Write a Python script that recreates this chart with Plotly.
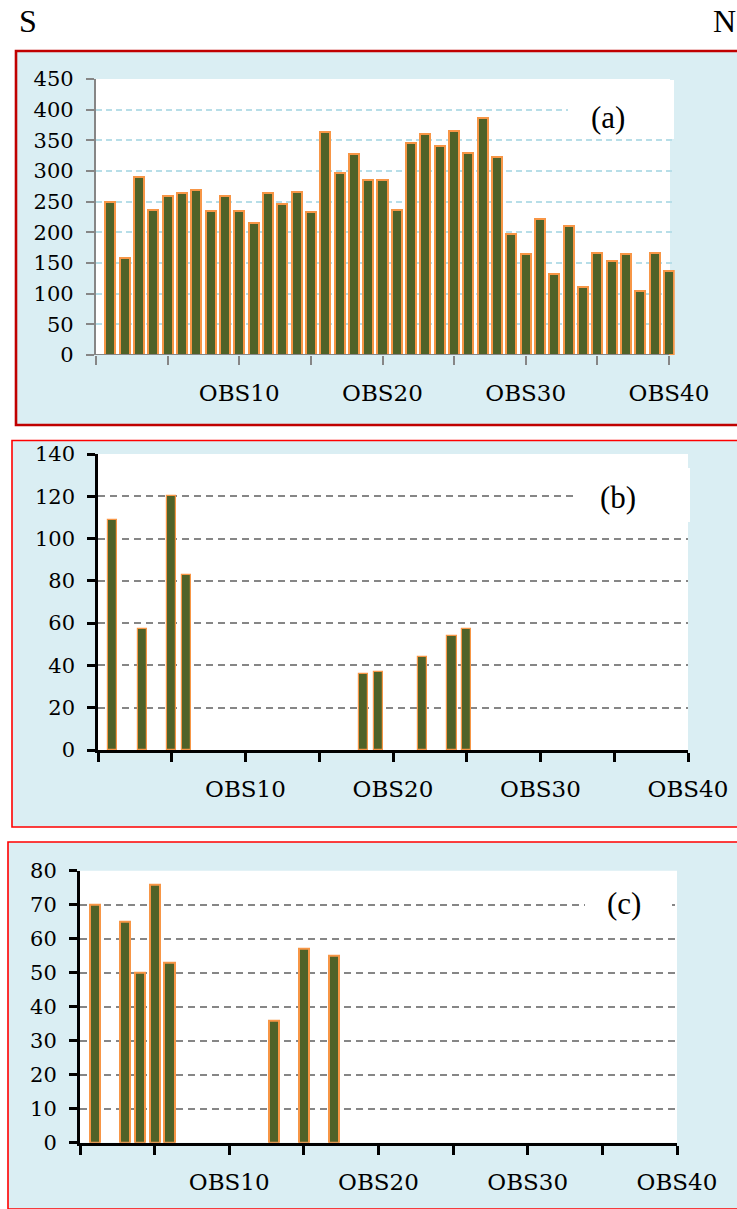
import plotly.graph_objects as go

W, H = 737, 1209

# ---- data -------------------------------------------------------------
obs_pos = list(range(1, 41))
obs_names = ["OBS%d" % i for i in obs_pos]

values_a = [250, 158, 290, 236, 259, 264, 269, 234, 260, 234,
            216, 264, 246, 265, 233, 364, 296, 327, 285, 285,
            236, 346, 361, 341, 365, 330, 387, 323, 198, 165,
            221, 132, 210, 111, 166, 154, 165, 105, 166, 137]

values_b = [109, 0, 57, 0, 120, 83, 0, 0, 0, 0,
            0, 0, 0, 0, 0, 0, 0, 36, 37, 0,
            0, 44, 0, 54, 57, 0, 0, 0, 0, 0,
            0, 0, 0, 0, 0, 0, 0, 0, 0, 0]

values_c = [70, 0, 65, 50, 76, 53, 0, 0, 0, 0,
            0, 0, 36, 0, 57, 0, 55, 0, 0, 0,
            0, 0, 0, 0, 0, 0, 0, 0, 0, 0,
            0, 0, 0, 0, 0, 0, 0, 0, 0, 0]

x_tickvals = [0, 5, 10, 15, 20, 25, 30, 35, 40]
x_ticktext = ["", "", "OBS10", "", "OBS20", "", "OBS30", "", "OBS40"]

panel_tags = ["(a)", "(b)", "(c)"]
edge_labels = ["S", "N"]

# ---- styling ----------------------------------------------------------
BAR_FILL = "#4F6228"
BAR_EDGE = "#F79646"
PANEL_BG = "#DAEEF3"
TICK_FONT = dict(family="DejaVu Serif", size=21, color="#000000")
XTICK_FONT = dict(family="DejaVu Serif", size=23, color="#000000")
TAG_FONT = dict(family="Liberation Serif", size=31, color="#000000")


def px(x):
    return x / W


def py(y):
    return 1 - y / H


fig = go.Figure()

# bars (empty stations are left without a bar)
for vals, xa, ya, bw, lw in [
    (values_a, "x", "y", 0.70, 2.0),
    (values_b, "x2", "y2", 0.64, 1.2),
    (values_c, "x3", "y3", 0.68, 2.0),
]:
    fig.add_trace(go.Bar(
        x=obs_pos, y=[v if v else None for v in vals],
        xaxis=xa, yaxis=ya, width=bw,
        hovertext=obs_names,
        marker=dict(color=BAR_FILL, line=dict(color=BAR_EDGE, width=lw)),
        showlegend=False,
    ))

shapes = []
# panel backgrounds with red frames (open on the right side)
for (x0, y0, y1, col, lw) in [
    (16, 51, 425, "#C00000", 2.6),
    (12, 440.5, 827, "#FF0000", 1.6),
    (8, 842, 1209, "#FF0000", 1.6),
]:
    shapes.append(dict(type="rect", xref="paper", yref="paper",
                       x0=px(x0), x1=1, y0=py(y1), y1=py(y0),
                       fillcolor=PANEL_BG, line=dict(width=0),
                       layer="below"))
    path = "M %f,%f L %f,%f L %f,%f L %f,%f" % (
        px(W), py(y0), px(x0), py(y0), px(x0), py(y1), px(W), py(y1))
    shapes.append(dict(type="path", xref="paper", yref="paper", path=path,
                       line=dict(color=col, width=lw), layer="below"))
# white plotting areas
for (x0, y0, x1, y1) in [
    (96, 79, 670, 355),
    (98, 454, 688, 750),
    (80, 870.7, 677, 1142.7),
]:
    shapes.append(dict(type="rect", xref="paper", yref="paper",
                       x0=px(x0), x1=px(x1), y0=py(y1), y1=py(y0),
                       fillcolor="#FFFFFF", line=dict(width=0),
                       layer="below"))
# white boxes behind the panel tags
for (x0, y0, x1, y1) in [
    (568, 80, 674, 139),
    (577, 468, 690, 522),
    (585, 884, 672, 926),
]:
    shapes.append(dict(type="rect", xref="paper", yref="paper",
                       x0=px(x0), x1=px(x1), y0=py(y1), y1=py(y0),
                       fillcolor="#FFFFFF", line=dict(width=0),
                       layer="above"))
# bottom axis line of panel (a), ending at the last tick
shapes.append(dict(type="line", xref="x", yref="y", x0=0, x1=40, y0=0, y1=0,
                   line=dict(color="#868686", width=2.2), layer="above"))

annotations = []
for txt, (cx, cy) in zip(panel_tags, [(608, 117), (618, 497), (624, 904)]):
    annotations.append(dict(text=txt, x=px(cx), y=py(cy), xref="paper",
                            yref="paper", showarrow=False, font=TAG_FONT,
                            xanchor="center", yanchor="middle"))
annotations.append(dict(text=edge_labels[0], x=px(28), y=py(21), xref="paper",
                        yref="paper", showarrow=False,
                        font=dict(family="Liberation Serif", size=32,
                                  color="#000000"),
                        xanchor="center", yanchor="middle"))
annotations.append(dict(text=edge_labels[1], x=1, y=py(21),
                        xref="paper", yref="paper", showarrow=False,
                        font=dict(family="Liberation Serif", size=32,
                                  color="#000000"),
                        xanchor="right", yanchor="middle", borderpad=0))


def xaxis(domain, rng, anchor, color, lw, show_line=True):
    return dict(domain=domain, range=rng, anchor=anchor,
                tickmode="array", tickvals=x_tickvals, ticktext=x_ticktext,
                ticks="outside", ticklen=9, tickwidth=lw, tickcolor=color,
                showline=show_line, linecolor=color, linewidth=lw,
                showgrid=False, zeroline=False, tickfont=XTICK_FONT,
                ticklabelstandoff=8, fixedrange=True, automargin=False)


def yaxis(domain, rng, dtick, anchor, color, lw, gcol, gdash):
    return dict(domain=domain, range=rng, anchor=anchor, dtick=dtick,
                tick0=0, ticks="outside", ticklen=8, tickwidth=lw,
                tickcolor=color, showline=True, linecolor=color,
                linewidth=lw, showgrid=True, gridcolor=gcol, gridwidth=2,
                griddash=gdash, zeroline=False, tickfont=TICK_FONT,
                ticklabelstandoff=8, fixedrange=True, automargin=False)


fig.update_layout(
    width=W, height=H,
    autosize=False,
    margin=dict(l=0, r=0, t=0, b=0, pad=0, autoexpand=False),
    paper_bgcolor="#FFFFFF",
    plot_bgcolor="rgba(0,0,0,0)",
    bargap=0,
    showlegend=False,
    shapes=shapes,
    annotations=annotations,
    xaxis=xaxis([px(96), px(96 + 40.4 * 14.325)], [0, 40.4], "y",
                "#868686", 2.2, show_line=False),
    yaxis=yaxis([py(355), py(79)], [0, 450], 50, "x", "#868686", 2.2,
                "#B7DEE8", "6px,4px"),
    xaxis2=xaxis([px(98), px(688)], [0, 40], "y2", "#000000", 2.6),
    yaxis2=yaxis([py(750), py(454)], [0, 140], 20, "x2", "#000000", 2.6,
                 "#868686", "7px,5px"),
    xaxis3=xaxis([px(80), px(677)], [0, 40], "y3", "#000000", 3),
    yaxis3=yaxis([py(1142.7), py(870.7)], [0, 80], 10, "x3", "#000000", 3,
                 "#868686", "7px,5px"),
)

fig.write_html("out.html")
